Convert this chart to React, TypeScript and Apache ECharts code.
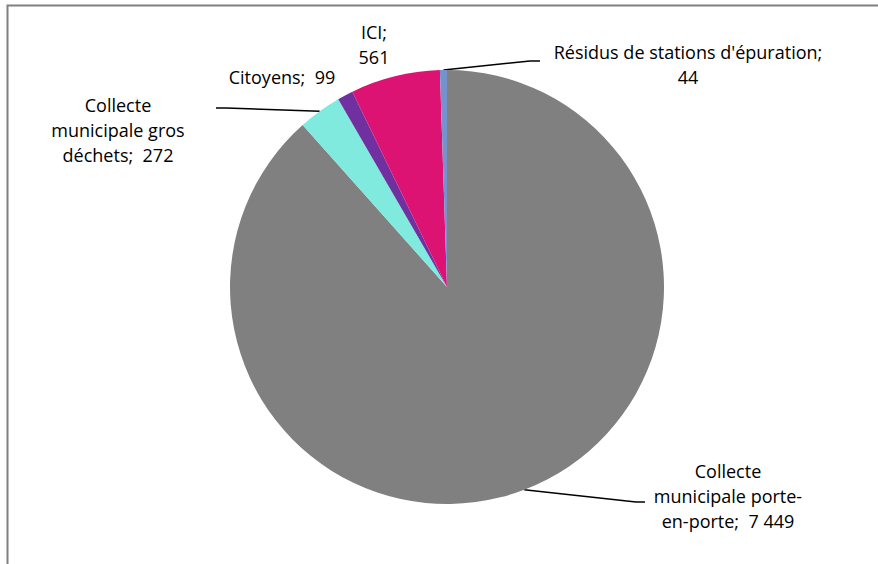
import React, { useEffect, useRef } from "react";
import * as echarts from "echarts";

const categories = [
  "Collecte municipale porte-en-porte",
  "Collecte municipale gros déchets",
  "Citoyens",
  "ICI",
  "Résidus de stations d'épuration",
];
const values = [7449, 272, 99, 561, 44];
const colors = ["#808080", "#80EADF", "#7030A0", "#DC1372", "#7592CC"];
// label text templates ({v} = formatted value), line breaks as in the original
const labelTexts = [
  "Collecte\nmunicipale porte-\nen-porte;  {v}",
  "Collecte\nmunicipale gros\ndéchets;  {v}",
  "Citoyens;  {v}",
  "ICI;\n{v}",
  "Résidus de stations d'épuration;\n{v}",
];
const showLine = [true, true, false, false, true];

// label centre positions and leader line bends (layout)
const labelPos: [number, number][] = [
  [728, 496],
  [118, 130],
  [282, 77],
  [374, 44],
  [688, 64],
];
const lineBends: [number, number][][] = [
  [[636, 502], [645, 502]],
  [[226, 108], [216, 108]],
  [],
  [],
  [[530, 61], [540, 61]],
];

const fmt = (v: number) => String(v).replace(/\B(?=(\d{3})+(?!\d))/g, " ");

export default function App() {
  const ref = useRef<HTMLDivElement>(null);
  useEffect(() => {
    if (!ref.current) return;
    const chart = echarts.init(ref.current, undefined, { renderer: "svg" });
    chart.setOption({
      animation: false,
      backgroundColor: "#ffffff",
      graphic: [
        {
          type: "polyline",
          shape: { points: [[7.5, 564], [7.5, 5.5], [878, 5.5]] },
          style: { stroke: "#808080", lineWidth: 2, fill: "none" },
          silent: true,
        },
      ],
      series: [
        {
          type: "pie",
          center: [447, 287],
          radius: [0, 217],
          startAngle: 90,
          clockwise: true,
          avoidLabelOverlap: false,
          itemStyle: { borderWidth: 0 },
          label: {
            show: true,
            position: "outside",
            fontFamily: "'Open Sans', sans-serif",
            fontSize: 18,
            lineHeight: 25,
            color: "#000000",
            align: "center",
            formatter: (p: any) =>
              labelTexts[p.dataIndex].replace("{v}", fmt(p.value)),
          },
          labelLine: {
            show: true,
            length: 20,
            length2: 20,
            lineStyle: { color: "#000000", width: 1.5 },
          },
          labelLayout: (p: any) => {
            const i = p.dataIndex;
            const [x, y] = labelPos[i];
            const out: any = { x, y, align: "center", verticalAlign: "middle" };
            if (showLine[i] && p.labelLinePoints) {
              out.labelLinePoints = [p.labelLinePoints[0], ...lineBends[i]];
            }
            return out;
          },
          data: categories.map((name, i) => ({
            name,
            value: values[i],
            itemStyle: { color: colors[i] },
            labelLine: { show: showLine[i] },
          })),
        },
      ],
    });
    return () => chart.dispose();
  }, []);
  return (
    <div
      ref={ref}
      style={{ position: "fixed", left: 0, top: 0, width: 878, height: 564 }}
    />
  );
}
